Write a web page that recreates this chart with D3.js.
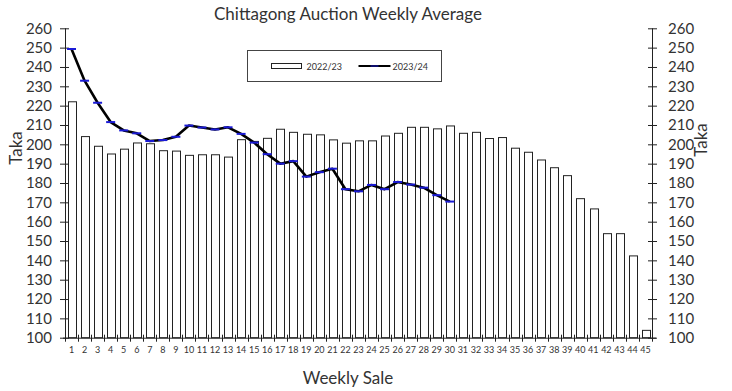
<!DOCTYPE html>
<html>
<head>
<meta charset="utf-8">
<script src="https://cdn.jsdelivr.net/npm/d3@7"></script>
<style>
  body { margin: 0; background: #fff; }
  text { font-family: Lato, "Open Sans", sans-serif; fill: #333; }
</style>
</head>
<body>
<div id="chart"></div>
<script>
// weekly sale numbers
var weeks = d3.range(1, 46);

// 2022/23 season average (bars)
var season2223 = [222, 204, 199, 195, 197.5, 200.7, 200.3, 196.7, 196.5, 194.3,
  194.6, 194.6, 193.4, 202.4, 201.5, 203.1, 207.8, 206.2, 205.2, 204.9,
  202.3, 200.6, 201.8, 201.8, 204.3, 205.7, 208.8, 208.8, 208, 209.5,
  205.7, 206.2, 203, 203.5, 198, 195.9, 191.9, 187.9, 183.8, 171.9,
  166.6, 153.8, 153.8, 142.3, 103.8];

// 2023/24 season average (line), weeks 1-30
var season2324 = [249.3, 232.9, 221.5, 211.5, 207.2, 205.7, 201.7, 202.2, 203.9, 209.7,
  208.7, 207.7, 208.8, 205.4, 200.9, 194.9, 190, 191.3, 183.3, 185.6,
  187.4, 176.8, 175.7, 179, 176.8, 180.5, 179.2, 177.6, 173.7, 170.4];

var yTicks = d3.range(100, 261, 10);

var W = 732, H = 391;
var margin = {top: 28.3, right: 80, bottom: 53.3, left: 65},
    width = W - margin.left - margin.right,
    height = H - margin.top - margin.bottom;

var svg = d3.select("#chart").append("svg")
    .attr("width", W)
    .attr("height", H);

var g = svg.append("g")
    .attr("transform", "translate(" + margin.left + "," + margin.top + ")");

var x = d3.scaleBand()
    .domain(weeks)
    .range([0, width])
    .paddingInner(0.42)
    .paddingOuter(0.21);

var step = x.step();

var y = d3.scaleLinear()
    .domain([100, 260])
    .range([height, 0]);

// bars
g.selectAll(".bar")
  .data(season2223)
  .enter().append("rect")
    .attr("class", "bar")
    .attr("x", function(d, i) { return Math.round(x(weeks[i])) + 0.5; })
    .attr("y", function(d) { return y(d); })
    .attr("width", Math.round(x.bandwidth()))
    .attr("height", function(d) { return height - y(d); })
    .attr("fill", "#fff")
    .attr("stroke", "#222")
    .attr("stroke-width", 1);

// left axis
var yl = g.append("g")
    .call(d3.axisLeft(y).tickValues(yTicks).tickSize(5).tickPadding(8));
yl.selectAll(".tick line").attr("x2", -5).attr("x1", 4).attr("stroke", "#222");
yl.select(".domain").attr("stroke", "#222").attr("d", "M0.5," + height + "V0");
yl.selectAll("text").style("font-size", "15px").style("font-family", "Lato, sans-serif").attr("fill", "#333");

// right axis
var yr = g.append("g")
    .attr("transform", "translate(" + width + ",0)")
    .call(d3.axisRight(y).tickValues(yTicks).tickSize(5).tickPadding(11));
yr.selectAll(".tick line").attr("x1", -4).attr("x2", 5).attr("stroke", "#222");
yr.select(".domain").attr("stroke", "#222").attr("d", "M0.5," + height + "V0");
yr.selectAll("text").style("font-size", "15px").style("font-family", "Lato, sans-serif").attr("fill", "#333");

// bottom axis, ticks at category boundaries
var xa = g.append("g")
    .attr("transform", "translate(0," + height + ")")
    .call(d3.axisBottom(x).tickSize(0).tickPadding(9));
xa.select(".domain").attr("stroke", "#222").attr("d", "M-2,0.5H" + (width + 4));
xa.selectAll("text").style("font-size", "9px").style("font-family", "Lato, sans-serif").attr("fill", "#333");
g.append("g").selectAll("line")
  .data(d3.range(0, weeks.length + 1))
  .enter().append("line")
    .attr("x1", function(i) { return Math.round(i * step) + 0.5; })
    .attr("x2", function(i) { return Math.round(i * step) + 0.5; })
    .attr("y1", height - 3)
    .attr("y2", height + 4)
    .attr("stroke", "#222");

// 2023/24 line
var line = d3.line()
    .x(function(d, i) { return x(weeks[i]) + x.bandwidth() / 2; })
    .y(function(d) { return y(d); });

g.append("path")
    .datum(season2324)
    .attr("fill", "none")
    .attr("stroke", "#000")
    .attr("stroke-width", 2.6)
    .attr("stroke-linejoin", "round")
    .attr("d", line);

g.selectAll(".mk")
  .data(season2324)
  .enter().append("line")
    .attr("class", "mk")
    .attr("x1", function(d, i) { return x(weeks[i]) + x.bandwidth() / 2 - 4.5; })
    .attr("x2", function(d, i) { return x(weeks[i]) + x.bandwidth() / 2 + 4.5; })
    .attr("y1", function(d) { return y(d); })
    .attr("y2", function(d) { return y(d); })
    .attr("stroke", "#1a1ad6")
    .attr("stroke-width", 2);

// title and axis titles
svg.append("text")
    .attr("x", 348).attr("y", 20)
    .attr("text-anchor", "middle")
    .style("font-size", "17px")
    .text("Chittagong Auction Weekly Average");

svg.append("text")
    .attr("transform", "translate(22,148) rotate(-90)")
    .attr("text-anchor", "middle")
    .style("font-size", "17px")
    .text("Taka");

svg.append("text")
    .attr("transform", "translate(707,140) rotate(-90)")
    .attr("text-anchor", "middle")
    .style("font-size", "17px")
    .text("Taka");

svg.append("text")
    .attr("x", 348).attr("y", 384)
    .attr("text-anchor", "middle")
    .style("font-size", "17px")
    .text("Weekly Sale");

// legend
var lg = svg.append("g").attr("transform", "translate(247.5,50.5)");
lg.append("rect")
    .attr("width", 194).attr("height", 31)
    .attr("fill", "#fff").attr("stroke", "#444");
lg.append("rect")
    .attr("x", 24).attr("y", 13)
    .attr("width", 30).attr("height", 5)
    .attr("fill", "#fff").attr("stroke", "#222");
lg.append("text")
    .attr("x", 59).attr("y", 19)
    .style("font-size", "9px")
    .text("2022/23");
lg.append("line")
    .attr("x1", 111).attr("x2", 143).attr("y1", 15.5).attr("y2", 15.5)
    .attr("stroke", "#000").attr("stroke-width", 2);
lg.append("line")
    .attr("x1", 123).attr("x2", 131).attr("y1", 15.5).attr("y2", 15.5)
    .attr("stroke", "#1a1ad6").attr("stroke-width", 1);
lg.append("text")
    .attr("x", 145).attr("y", 19)
    .style("font-size", "9px")
    .text("2023/24");
</script>
</body>
</html>
